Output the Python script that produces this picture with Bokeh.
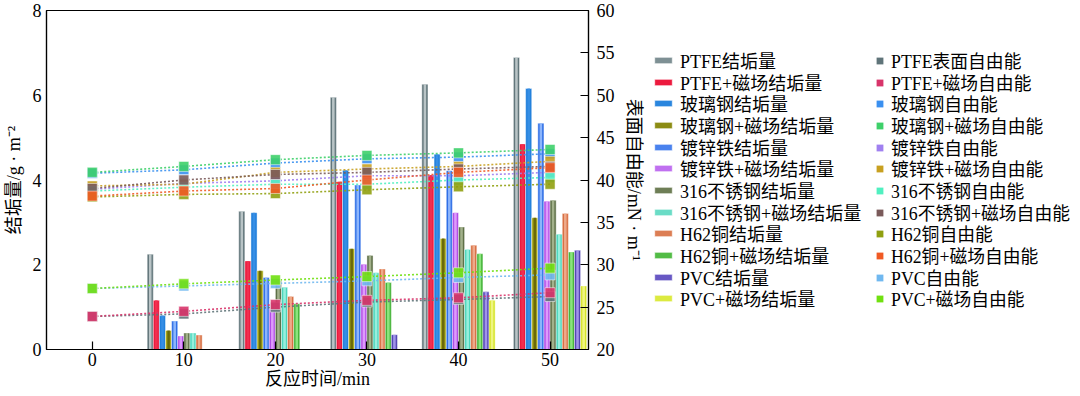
from bokeh.plotting import figure
from bokeh.layouts import row
from bokeh.models import Range1d, LinearAxis, Legend, LegendItem, FixedTicker, ColumnDataSource
from bokeh.embed import file_html
from bokeh.resources import INLINE

# ---------------- data ----------------
times = [0, 10, 20, 30, 40, 50]

scale_names = ["PTFE结垢量", "PTFE+磁场结垢量", "玻璃钢结垢量", "玻璃钢+磁场结垢量",
               "镀锌铁结垢量", "镀锌铁+磁场结垢量", "316不锈钢结垢量", "316不锈钢+磁场结垢量",
               "H62铜结垢量", "H62铜+磁场结垢量", "PVC结垢量", "PVC+磁场结垢量"]
ptfe    = [0, 2.25, 3.26, 5.95, 6.26, 6.89]
ptfe_m  = [0, 1.16, 2.09, 3.96, 4.12, 4.85]
frp     = [0, 0.80, 3.23, 4.23, 4.61, 6.16]
frp_m   = [0, 0.45, 1.86, 2.38, 2.62, 3.11]
galv    = [0, 0.67, 1.70, 3.88, 4.22, 5.34]
galv_m  = [0, 0.32, 0.96, 2.01, 3.23, 3.50]
ss316   = [0, 0.39, 1.63, 2.22, 2.89, 3.52]
ss316_m = [0, 0.39, 1.47, 1.81, 2.36, 2.72]
h62     = [0, 0.34, 1.25, 1.90, 2.46, 3.21]
h62_m   = [0, 0, 1.08, 1.58, 2.26, 2.30]
pvc     = [0, 0, 0, 0.35, 1.36, 2.34]
pvc_m   = [0, 0, 0, 0, 1.16, 1.50]
scale_series = [ptfe, ptfe_m, frp, frp_m, galv, galv_m, ss316, ss316_m, h62, h62_m, pvc, pvc_m]

fe_names = ["PTFE表面自由能", "PTFE+磁场自由能", "玻璃钢自由能", "玻璃钢+磁场自由能",
            "镀锌铁自由能", "镀锌铁+磁场自由能", "316不锈钢自由能", "316不锈钢+磁场自由能",
            "H62铜自由能", "H62铜+磁场自由能", "PVC自由能", "PVC+磁场自由能"]
fe_ptfe    = [23.9, 24.2, 25.0, 25.6, 25.9, 26.25]
fe_ptfe_m  = [23.9, 24.5, 25.3, 25.8, 26.1, 26.7]
fe_frp     = [40.8, 41.2, 42.0, 42.5, 42.7, 43.1]
fe_frp_m   = [40.9, 41.6, 42.4, 42.9, 43.2, 43.6]
fe_galv    = [38.9, 39.6, 39.9, 40.5, 40.5, 40.9]
fe_galv_m  = [39.3, 39.5, 40.9, 41.3, 41.6, 42.2]
fe_316     = [38.7, 39.15, 39.5, 39.5, 40.0, 40.3]
fe_316_m   = [39.0, 40.0, 40.65, 40.9, 41.3, 41.6]
fe_h62     = [38.0, 38.3, 38.4, 38.85, 39.2, 39.5]
fe_h62_m   = [38.1, 38.7, 39.0, 40.0, 40.9, 41.45]
fe_pvc     = [27.2, 27.5, 27.8, 28.1, 28.5, 28.8]
fe_pvc_m   = [27.2, 27.75, 28.2, 28.6, 29.05, 29.6]
fe_series = [fe_ptfe, fe_ptfe_m, fe_frp, fe_frp_m, fe_galv, fe_galv_m,
             fe_316, fe_316_m, fe_h62, fe_h62_m, fe_pvc, fe_pvc_m]

x_ticks = [0, 10, 20, 30, 40, 50]
left_ticks = [0, 2, 4, 6, 8]
right_ticks = [20, 25, 30, 35, 40, 45, 50, 55, 60]

# ---------------- styles ----------------
bar_outer = ["#62767b", "#ec1a3e", "#2381dc", "#a8a818", "#2f6fe6", "#b24ee6",
             "#5e7048", "#4cd6bc", "#d87044", "#46b43a", "#5446b4", "#d6e42a"]
bar_inner = ["#c9d2d3", "#f23452", "#3a90e6", "#5e5e08", "#9cc2ff", "#e4a8ff",
             "#aebc98", "#a6f2e2", "#f2b496", "#98ec8a", "#aea2f2", "#f2f890"]
bar_legend = ["#7e9094", "#ec1a3e", "#2a86de", "#8c8c14", "#4a82ee", "#c070f0",
              "#6e7e56", "#6adcc6", "#dc7e54", "#52bc46", "#6858c4", "#dcea40"]
fe_colors = ["#5f7479", "#d8346a", "#3a90f0", "#3ed06a", "#a080f0", "#c8a020",
             "#50f0c0", "#7a5a5a", "#90a010", "#f05a24", "#70b8f0", "#70e010"]

SERIF = "Liberation Serif, Noto Sans CJK SC"
FS = "18px"
H = 391

p = figure(frame_width=542, frame_height=339, output_backend="svg", toolbar_location=None,
           x_range=Range1d(-5.0, 54.2), y_range=Range1d(0, 8),
           min_border_left=37, min_border_top=10, min_border_bottom=0, min_border_right=58)
p.extra_y_ranges = {"fe": Range1d(20, 60)}
p.xgrid.visible = False
p.ygrid.visible = False
p.outline_line_color = "black"
p.outline_line_width = 1.2
p.background_fill_color = "white"
p.border_fill_color = "white"

bw = 0.667
bar_sources = []
for i, vals in enumerate(scale_series):
    xs = [t + (i - 5.5) * bw for t, v in zip(times, vals) if v > 0]
    tops = [v for v in vals if v > 0]
    src = ColumnDataSource(dict(x=xs, top=tops))
    bar_sources.append(src)
    p.vbar(x="x", top="top", bottom=0, width=bw, source=src,
           fill_color=bar_outer[i], line_color="white", line_width=0.6, line_alpha=0.7)
    p.vbar(x="x", top="top", bottom=0, width=bw * 0.42, source=src,
           fill_color=bar_inner[i], line_color=None, fill_alpha=0.85)

fe_sources = []
for i, vals in enumerate(fe_series):
    src = ColumnDataSource(dict(x=times, y=vals))
    fe_sources.append(src)
    p.line(x="x", y="y", source=src, y_range_name="fe", line_color=fe_colors[i],
           line_dash="2 2", line_width=1.6, line_alpha=0.9)
for i, src in enumerate(fe_sources):
    p.scatter(x="x", y="y", source=src, y_range_name="fe", marker="square", size=10,
              fill_color=fe_colors[i], line_color="white", line_alpha=0.5, fill_alpha=0.9)

# axes
p.xaxis.ticker = FixedTicker(ticks=x_ticks)
p.xaxis.axis_label = "反应时间/min"
p.yaxis.ticker = FixedTicker(ticks=left_ticks)
p.yaxis.axis_label = "结垢量/g · m⁻²"

right = LinearAxis(y_range_name="fe", ticker=FixedTicker(ticks=right_ticks),
                   axis_label="表面自由能/mN · m⁻¹")
p.add_layout(right, "right")

for ax in [p.xaxis[0], p.yaxis[0], right]:
    ax.major_label_text_font = SERIF
    ax.major_label_text_font_size = FS
    ax.major_label_text_color = "black"
    ax.axis_label_text_font = SERIF
    ax.axis_label_text_font_size = FS
    ax.axis_label_text_font_style = "normal"
    ax.axis_label_text_color = "black"
    ax.axis_line_color = "black"
    ax.axis_line_width = 1.2
    ax.minor_tick_line_color = None
    ax.major_tick_line_color = "black"
    ax.major_tick_line_width = 1.2
    ax.major_tick_out = 0

p.xaxis.major_tick_in = 8
p.xaxis.major_label_standoff = 3
p.xaxis.axis_label_standoff = 0
p.yaxis.major_tick_in = 0
p.yaxis.major_label_standoff = 5
p.yaxis.axis_label_standoff = 6
right.major_tick_in = 8
right.major_label_standoff = 8
right.axis_label_standoff = 6

# ---------------- legend panel (renderers kept out of its view) ----------------
lf = figure(width=427, height=H, x_range=Range1d(-1000, -999), y_range=Range1d(-1000, -999),
            x_axis_location=None, y_axis_location=None, toolbar_location=None,
            output_backend="svg", min_border=0, outline_line_color=None)
lf.xgrid.visible = False
lf.ygrid.visible = False

ROW0 = 276      # offset of first row's legend bottom above the frame bottom
PITCH = 21.66   # row pitch in pixels
common = dict(orientation="vertical", label_height=18, padding=0, margin=0,
              border_line_color=None, background_fill_alpha=0, label_text_color="black",
              label_text_font=SERIF)
for k, n in enumerate(scale_names):
    r = lf.vbar(x="x", top="top", bottom=0, width=bw, source=bar_sources[k],
                fill_color=bar_legend[k], line_color="white", line_alpha=0.6)
    lg = Legend(items=[LegendItem(label=n, renderers=[r])],
                location=(6, round(ROW0 - PITCH * k)), glyph_width=22, glyph_height=8,
                label_standoff=6, label_text_font_size="18px", **common)
    lf.add_layout(lg, "center")
for k, n in enumerate(fe_names):
    r = lf.scatter(x="x", y="y", source=fe_sources[k], marker="square",
                   fill_color=fe_colors[k], line_color=None)
    lg = Legend(items=[LegendItem(label=n, renderers=[r])],
                location=(225, round(ROW0 - PITCH * k)), glyph_width=17, glyph_height=17,
                label_standoff=3, label_text_font_size="17.8px", **common)
    lf.add_layout(lg, "center")

layout = row(p, lf)
open("out.html", "w").write(file_html(layout, INLINE))
